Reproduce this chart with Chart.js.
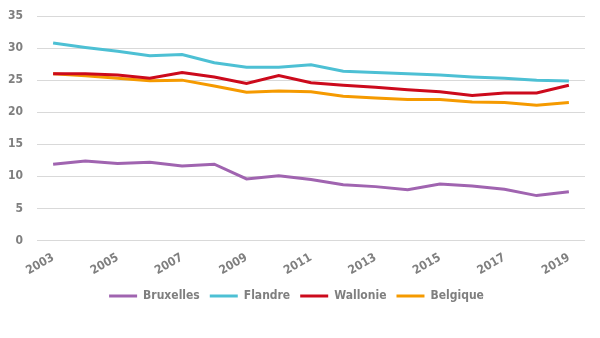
<!DOCTYPE html>
<html><head><meta charset="utf-8">
<script src="https://cdn.jsdelivr.net/npm/chart.js@4/dist/chart.umd.min.js"></script>
<style>html,body{margin:0;padding:0;background:#fff}#w{width:600px;height:338px}</style>
</head><body><div id="w"><canvas id="c"></canvas></div>
<script>
const years = ['2003','2004','2005','2006','2007','2008','2009','2010','2011','2012','2013','2014','2015','2016','2017','2018','2019'];
const bruxelles = [11.9,12.4,12.0,12.2,11.6,11.9,9.6,10.1,9.5,8.7,8.4,7.9,8.8,8.5,8.0,7.0,7.6];
const flandre = [30.8,30.1,29.5,28.8,29.0,27.7,27.0,27.0,27.4,26.4,26.2,26.0,25.8,25.5,25.3,25.0,24.85];
const wallonie = [26.0,26.0,25.8,25.3,26.2,25.5,24.5,25.7,24.6,24.2,23.9,23.5,23.2,22.6,23.0,23.0,24.2];
const belgique = [26.0,25.7,25.3,24.9,25.0,24.1,23.1,23.3,23.2,22.5,22.2,22.0,22.0,21.6,21.5,21.1,21.5];
const yTicks = [0,5,10,15,20,25,30,35];

const font = {family:'"DejaVu Sans Condensed","Liberation Sans Narrow",sans-serif', weight:'bold', size:12};
const grey = '#7f7f7f';
const mk = (label, data, color) => ({label, data, borderColor: color, backgroundColor: color, borderWidth: 3, pointRadius: 0, tension: 0, fill: false});

new Chart(document.getElementById('c'), {
  type: 'line',
  data: {
    labels: years,
    datasets: [
      mk('Bruxelles', bruxelles, '#a064b0'),
      mk('Flandre', flandre, '#4dc0d4'),
      mk('Wallonie', wallonie, '#cc0a1c'),
      mk('Belgique', belgique, '#f59a00')
    ]
  },
  options: {
    responsive: true, maintainAspectRatio: false, animation: false,
    layout: {padding: {left: 8, right: 15, top: 16, bottom: 26}},
    plugins: {
      tooltip: {enabled: false},
      legend: {
        position: 'bottom',
        labels: {
          color: grey, font: font, boxWidth: 28, boxHeight: 3, padding: 10,
          generateLabels: (chart) => chart.data.datasets.map((d, i) => ({
            text: d.label, fillStyle: d.borderColor, strokeStyle: d.borderColor, lineWidth: 0,
            datasetIndex: i, fontColor: grey
          }))
        }
      }
    },
    scales: {
      x: {
        offset: true,
        grid: {display: false},
        border: {display: false},
        afterFit: (s) => { s.paddingLeft = 0; },
        ticks: {
          color: grey, font: font, autoSkip: false, minRotation: 30, maxRotation: 30, padding: 2,
          callback: function(v, i) { const l = this.getLabelForValue(v); return (i % 2 === 0) ? l : ''; }
        }
      },
      y: {
        min: 0, max: 35,
        afterBuildTicks: (s) => { s.ticks = yTicks.map(v => ({value: v})); },
        afterFit: (s) => { s.width = 29; s.paddingTop = 0; s.paddingBottom = 0; },
        grid: {color: '#d9d9d9', lineWidth: 1, drawTicks: false},
        border: {display: false},
        ticks: {color: grey, font: font, padding: 14}
      }
    }
  }
});
</script></body></html>
